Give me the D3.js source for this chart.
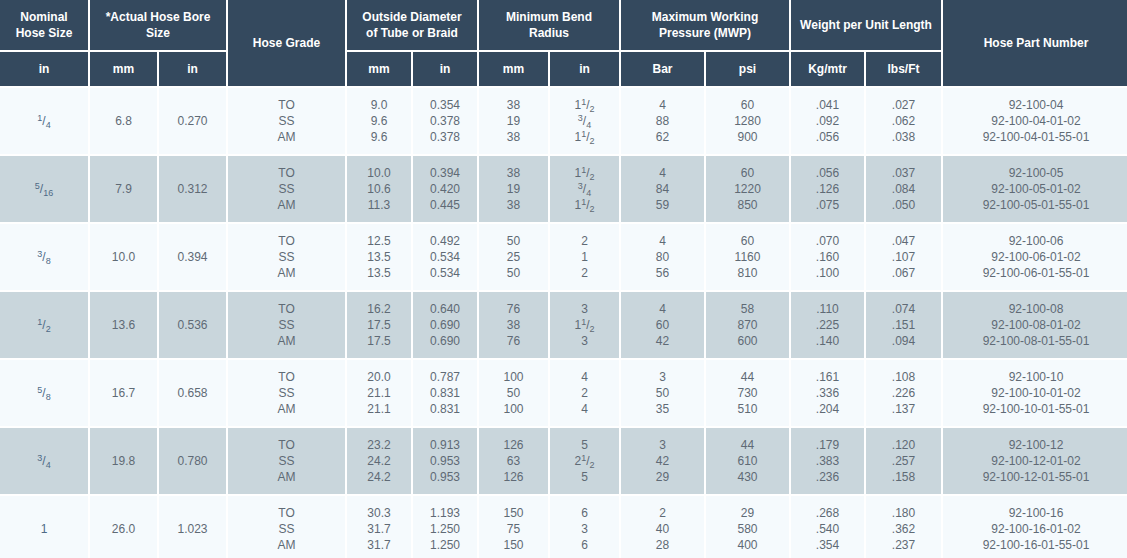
<!DOCTYPE html>
<html>
<head>
<meta charset="utf-8">
<script src="https://cdn.jsdelivr.net/npm/d3@7"></script>
<style>
  html, body { margin: 0; padding: 0; background: #ffffff; }
  svg { display: block; }
</style>
</head>
<body>
<svg id="chart" width="1127" height="558"></svg>
<script>
// ---------------- DATA ----------------
const nominalSize = ["1/4", "5/16", "3/8", "1/2", "5/8", "3/4", "1"];
const boreMm = ["6.8", "7.9", "10.0", "13.6", "16.7", "19.8", "26.0"];
const boreIn = ["0.270", "0.312", "0.394", "0.536", "0.658", "0.780", "1.023"];
const hoseGrades = ["TO", "SS", "AM"];
const odMm = [
  ["9.0", "9.6", "9.6"], ["10.0", "10.6", "11.3"], ["12.5", "13.5", "13.5"],
  ["16.2", "17.5", "17.5"], ["20.0", "21.1", "21.1"], ["23.2", "24.2", "24.2"],
  ["30.3", "31.7", "31.7"]
];
const odIn = [
  ["0.354", "0.378", "0.378"], ["0.394", "0.420", "0.445"], ["0.492", "0.534", "0.534"],
  ["0.640", "0.690", "0.690"], ["0.787", "0.831", "0.831"], ["0.913", "0.953", "0.953"],
  ["1.193", "1.250", "1.250"]
];
const bendMm = [
  ["38", "19", "38"], ["38", "19", "38"], ["50", "25", "50"], ["76", "38", "76"],
  ["100", "50", "100"], ["126", "63", "126"], ["150", "75", "150"]
];
const bendIn = [
  ["1 1/2", "3/4", "1 1/2"], ["1 1/2", "3/4", "1 1/2"], ["2", "1", "2"],
  ["3", "1 1/2", "3"], ["4", "2", "4"], ["5", "2 1/2", "5"], ["6", "3", "6"]
];
const mwpBar = [
  ["4", "88", "62"], ["4", "84", "59"], ["4", "80", "56"], ["4", "60", "42"],
  ["3", "50", "35"], ["3", "42", "29"], ["2", "40", "28"]
];
const mwpPsi = [
  ["60", "1280", "900"], ["60", "1220", "850"], ["60", "1160", "810"], ["58", "870", "600"],
  ["44", "730", "510"], ["44", "610", "430"], ["29", "580", "400"]
];
const weightKg = [
  [".041", ".092", ".056"], [".056", ".126", ".075"], [".070", ".160", ".100"],
  [".110", ".225", ".140"], [".161", ".336", ".204"], [".179", ".383", ".236"],
  [".268", ".540", ".354"]
];
const weightLbs = [
  [".027", ".062", ".038"], [".037", ".084", ".050"], [".047", ".107", ".067"],
  [".074", ".151", ".094"], [".108", ".226", ".137"], [".120", ".257", ".158"],
  [".180", ".362", ".237"]
];
const partCodes = ["04", "05", "06", "08", "10", "12", "16"];
const partSuffixes = ["", "-01-02", "-01-55-01"];

// header labels
const headerGroups = [
  { lines: ["Nominal", "Hose Size"], from: 0, to: 0, span: false },
  { lines: ["*Actual Hose Bore", "Size"], from: 1, to: 2, span: false },
  { lines: ["Hose Grade"], from: 3, to: 3, span: true },
  { lines: ["Outside Diameter", "of Tube or Braid"], from: 4, to: 5, span: false },
  { lines: ["Minimum Bend", "Radius"], from: 6, to: 7, span: false },
  { lines: ["Maximum Working", "Pressure (MWP)"], from: 8, to: 9, span: false },
  { lines: ["Weight per Unit Length"], from: 10, to: 11, span: false },
  { lines: ["Hose Part Number"], from: 12, to: 12, span: true }
];
const unitLabels = ["in", "mm", "in", null, "mm", "in", "mm", "in", "Bar", "psi", "Kg/mtr", "lbs/Ft", null];

// ---------------- LAYOUT ----------------
const W = 1127, H = 558, GAP = 2;
const colEdges = [0, 90, 159, 228, 347, 413, 479, 550, 621, 706, 791, 866, 943, 1131];
const colX = i => colEdges[i];
const colW = i => colEdges[i + 1] - colEdges[i] - GAP;
const head1 = { y: 0, h: 50 }, head2 = { y: 52, h: 34 };
const bodyTop = 88, rowStep = 68;

const rowScale = d3.scaleBand()
  .domain(d3.range(nominalSize.length))
  .range([bodyTop, bodyTop + rowStep * nominalSize.length - GAP])
  .paddingInner(GAP / rowStep)
  .paddingOuter(0);

const lineScale = d3.scalePoint().domain(d3.range(3)).range([-16, 16]);

const HEAD_BG = "#34495e", LIGHT_BG = "#f5fafd", DARK_BG = "#c9d6dc";
const TEXT = "#5f6a75", TEXT_FIRST = "#4e6a86";
const FONT = "'Liberation Sans', Arial, Helvetica, sans-serif";

const svg = d3.select("#chart").attr("font-family", FONT);
svg.append("rect").attr("width", W).attr("height", H).attr("fill", "#ffffff");

// ---------------- HEADER ----------------
const hg = svg.append("g");
headerGroups.forEach(g => {
  const x = colX(g.from), w = colEdges[g.to + 1] - colEdges[g.from] - GAP;
  const y = head1.y, h = g.span ? head2.y + head2.h - head1.y : head1.h;
  hg.append("rect").attr("x", x).attr("y", y).attr("width", w).attr("height", h).attr("fill", HEAD_BG);
  const cy = y + h / 2;
  const n = g.lines.length;
  g.lines.forEach((ln, k) => {
    hg.append("text")
      .attr("x", x + w / 2)
      .attr("y", cy + (k - (n - 1) / 2) * 16 + 4)
      .attr("text-anchor", "middle")
      .attr("font-size", 12).attr("font-weight", "bold")
      .attr("fill", "#ffffff")
      .text(ln);
  });
});
unitLabels.forEach((u, i) => {
  if (u === null) return;
  hg.append("rect").attr("x", colX(i)).attr("y", head2.y).attr("width", colW(i)).attr("height", head2.h).attr("fill", HEAD_BG);
  hg.append("text")
    .attr("x", colX(i) + colW(i) / 2)
    .attr("y", head2.y + head2.h / 2 + 4)
    .attr("text-anchor", "middle")
    .attr("font-size", 12).attr("font-weight", "bold")
    .attr("fill", "#ffffff")
    .text(u);
});

// ---------------- BODY ----------------
function writeValue(sel, str) {
  const m = /^(?:(\d+)\s+)?(\d+)\/(\d+)$/.exec(str);
  if (!m) { sel.text(str); return; }
  if (m[1]) sel.append("tspan").text(m[1]);
  sel.append("tspan").attr("font-size", 9).attr("dy", -4).text(m[2]);
  sel.append("tspan").attr("dy", 4).text("/");
  sel.append("tspan").attr("font-size", 9).attr("dy", 3).text(m[3]);
}

const tripleCols = [
  { col: 3, vals: () => hoseGrades },
  { col: 4, vals: i => odMm[i] },
  { col: 5, vals: i => odIn[i] },
  { col: 6, vals: i => bendMm[i] },
  { col: 7, vals: i => bendIn[i] },
  { col: 8, vals: i => mwpBar[i] },
  { col: 9, vals: i => mwpPsi[i] },
  { col: 10, vals: i => weightKg[i] },
  { col: 11, vals: i => weightLbs[i] },
  { col: 12, vals: i => partSuffixes.map(s => "92-100-" + partCodes[i] + s) }
];
const singleCols = [
  { col: 0, vals: nominalSize, color: TEXT_FIRST },
  { col: 1, vals: boreMm, color: TEXT },
  { col: 2, vals: boreIn, color: TEXT }
];

const rows = svg.selectAll("g.row")
  .data(d3.range(nominalSize.length))
  .join("g").attr("class", "row");

rows.each(function (i) {
  const g = d3.select(this);
  const y = rowScale(i), h = rowScale.bandwidth(), cy = y + h / 2;
  const bg = i % 2 === 0 ? LIGHT_BG : DARK_BG;
  for (let c = 0; c < 13; c++) {
    g.append("rect").attr("x", colX(c)).attr("y", y).attr("width", colW(c)).attr("height", h).attr("fill", bg);
  }
  singleCols.forEach(sc => {
    const t = g.append("text")
      .attr("x", colX(sc.col) + colW(sc.col) / 2)
      .attr("y", cy + 4)
      .attr("text-anchor", "middle")
      .attr("font-size", 12)
      .attr("fill", sc.color);
    writeValue(t, sc.vals[i]);
  });
  tripleCols.forEach(tc => {
    tc.vals(i).forEach((v, k) => {
      const t = g.append("text")
        .attr("x", colX(tc.col) + colW(tc.col) / 2)
        .attr("y", cy + lineScale(k) + 4)
        .attr("text-anchor", "middle")
        .attr("font-size", 12)
        .attr("fill", TEXT);
      writeValue(t, v);
    });
  });
});
</script>
</body>
</html>
